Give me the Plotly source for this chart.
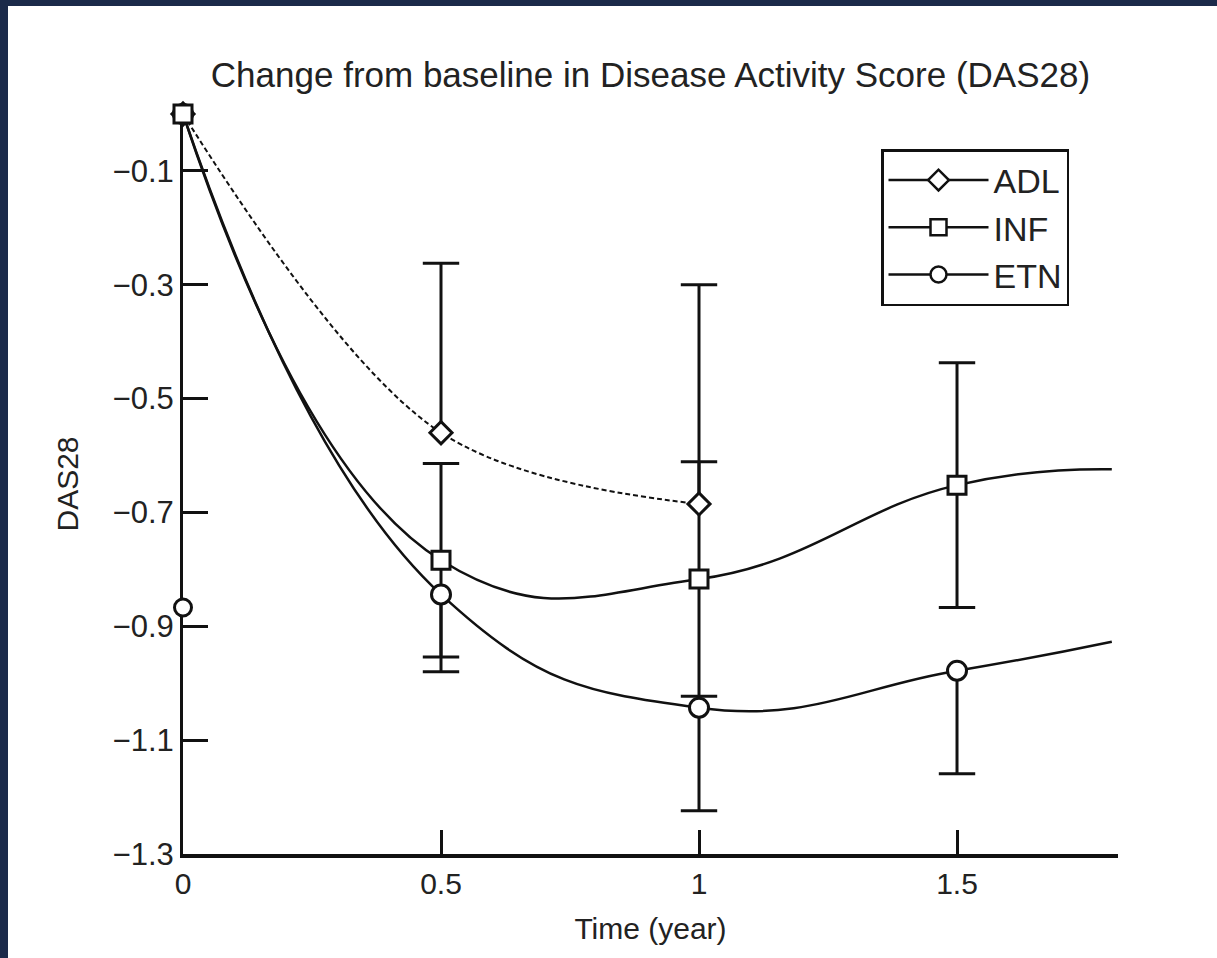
import plotly.graph_objects as go

# ---------------- data ----------------
adl_x = [0, 0.5, 1]
adl_y = [0.0, -0.560, -0.685]
adl_err_up = [0.0, 0.298, 0.385]

inf_x = [0, 0.5, 1, 1.5]
inf_y = [0.0, -0.784, -0.817, -0.652]
inf_err = [0.0, 0.170, 0.206, 0.215]

etn_x = [0, 0.5, 1, 1.5]
etn_y = [0.0, -0.844, -1.043, -0.978]
etn_err_down = [0.0, 0.136, 0.181, 0.181]

# where the fitted curves leave the plot on the right
curve_end_x = 1.8
inf_curve_end = -0.624
etn_curve_end = -0.927

# isolated symbol drawn on the y axis
stray_x = [0]
stray_y = [-0.867]

x_ticks = [0, 0.5, 1, 1.5]
x_tick_labels = ["0", "0.5", "1", "1.5"]
y_ticks = [-0.1, -0.3, -0.5, -0.7, -0.9, -1.1, -1.3]
y_tick_labels = ["\u22120.1", "\u22120.3", "\u22120.5", "\u22120.7", "\u22120.9", "\u22121.1", "\u22121.3"]

title_text = "Change from baseline in Disease Activity Score (DAS28)"
x_title = "Time (year)"
y_title = "DAS28"

# ---------------- layout constants ----------------
W, H = 1217, 958
ML, MR, MT, MB = 183, 99, 114, 104
PW, PH = W - ML - MR, H - MT - MB
NAVY = "#1b2a4a"
INK = "#111111"
TXT = "#222222"
FONT = "Liberation Sans"


def px_to_paper_x(p):
    return (p - ML) / PW


def px_to_paper_y(p):
    return (H - MB - p) / PH


fig = go.Figure()

# curves (clipped to the plot area)
fig.add_trace(go.Scatter(
    x=adl_x, y=adl_y, mode="lines", showlegend=False, hoverinfo="skip",
    line=dict(color=INK, width=2, dash="5px,3px", shape="spline", smoothing=1.0)))
fig.add_trace(go.Scatter(
    x=inf_x + [curve_end_x], y=inf_y + [inf_curve_end], mode="lines", showlegend=False,
    hoverinfo="skip", line=dict(color=INK, width=2.5, shape="spline", smoothing=1.3)))
fig.add_trace(go.Scatter(
    x=etn_x + [curve_end_x], y=etn_y + [etn_curve_end], mode="lines", showlegend=False,
    hoverinfo="skip", line=dict(color=INK, width=2.5, shape="spline", smoothing=1.3)))

# error bars (stems only)
err_specs = [
    (adl_x, adl_y, adl_err_up, [0.0] * len(adl_x)),
    (inf_x, inf_y, inf_err, inf_err),
    (etn_x, etn_y, [0.0] * len(etn_x), etn_err_down),
]
for xs, ys, up, dn in err_specs:
    fig.add_trace(go.Scatter(
        x=xs, y=ys, mode="markers", showlegend=False, hoverinfo="skip", cliponaxis=False,
        marker=dict(size=1, opacity=0),
        error_y=dict(type="data", symmetric=False, array=up, arrayminus=dn,
                     color=INK, thickness=3, width=0)))

# error bar caps
cap_x, cap_y = [], []
for xs, ys, up, dn in err_specs:
    for xv, yv, u, d in zip(xs, ys, up, dn):
        if u > 0:
            cap_x.append(xv)
            cap_y.append(yv + u)
        if d > 0:
            cap_x.append(xv)
            cap_y.append(yv - d)
fig.add_trace(go.Scatter(
    x=cap_x, y=cap_y, mode="markers", showlegend=False, hoverinfo="skip", cliponaxis=False,
    marker=dict(symbol="line-ew", size=26, line=dict(color=INK, width=3))))

# markers
mk_line = dict(color=INK, width=3)
fig.add_trace(go.Scatter(
    x=stray_x, y=stray_y, mode="markers", showlegend=False, hoverinfo="skip", cliponaxis=False,
    marker=dict(symbol="circle", size=17, color="white", line=mk_line)))
fig.add_trace(go.Scatter(
    x=etn_x, y=etn_y, mode="markers", showlegend=False, cliponaxis=False,
    marker=dict(symbol="circle", size=19, color="white", line=mk_line)))
fig.add_trace(go.Scatter(
    x=adl_x, y=adl_y, mode="markers", showlegend=False, cliponaxis=False,
    marker=dict(symbol="diamond", size=17, color="white", line=mk_line)))
fig.add_trace(go.Scatter(
    x=inf_x, y=inf_y, mode="markers", showlegend=False, cliponaxis=False,
    marker=dict(symbol="square", size=18, color="white", line=mk_line)))

# legend entries
for name, sym, size in [("ADL", "diamond", 16), ("INF", "square", 16), ("ETN", "circle", 16)]:
    fig.add_trace(go.Scatter(
        x=[None], y=[None], mode="lines+markers", name=name,
        line=dict(color=INK, width=2.5),
        marker=dict(symbol=sym, size=size, color="white", line=dict(color=INK, width=2.5))))

# navy frame on the left and top edges of the page
y_canvas_top = px_to_paper_y(0)
y_canvas_bot = px_to_paper_y(H)
x_canvas_left = px_to_paper_x(0)
x_canvas_right = px_to_paper_x(W)
shapes = [
    dict(type="rect", xref="paper", yref="paper", layer="below",
         x0=x_canvas_left, x1=px_to_paper_x(8), y0=y_canvas_bot, y1=y_canvas_top,
         fillcolor=NAVY, line=dict(width=0)),
    dict(type="rect", xref="paper", yref="paper", layer="below",
         x0=x_canvas_left, x1=x_canvas_right, y0=px_to_paper_y(6), y1=y_canvas_top,
         fillcolor=NAVY, line=dict(width=0)),
]

fig.update_layout(
    width=W, height=H,
    margin=dict(l=ML, r=MR, t=MT, b=MB, pad=0),
    paper_bgcolor="white", plot_bgcolor="white",
    font=dict(family=FONT, color=INK),
    title=dict(text=title_text, x=px_to_paper_x(650.5), xref="paper", xanchor="center",
               y=1 - 75 / H, yref="container", yanchor="middle",
               font=dict(family=FONT, size=35, color=TXT)),
    shapes=shapes,
    showlegend=True,
    legend=dict(
        x=px_to_paper_x(881), y=px_to_paper_y(149), xanchor="left", yanchor="top",
        bgcolor="white", bordercolor=INK, borderwidth=2.5,
        font=dict(family=FONT, size=34, color=TXT),
        itemwidth=100, tracegroupgap=0),
    xaxis=dict(
        range=[0, 1.812], tickmode="array", tickvals=x_ticks, ticktext=x_tick_labels,
        ticks="inside", ticklen=24, tickwidth=3, tickcolor=INK,
        showline=True, linecolor=INK, linewidth=3.5, mirror=False,
        showgrid=False, zeroline=False, layer="below traces",
        tickfont=dict(family=FONT, size=30, color=TXT),
        title=dict(text=x_title, font=dict(family=FONT, size=30, color=TXT), standoff=20)),
    yaxis=dict(
        range=[-1.3, 0], tickmode="array", tickvals=y_ticks, ticktext=y_tick_labels,
        ticks="inside", ticklen=25, tickwidth=3, tickcolor=INK,
        showline=True, linecolor=INK, linewidth=3, mirror=False,
        showgrid=False, zeroline=False, layer="below traces",
        tickfont=dict(family=FONT, size=31, color=TXT),
        title=dict(text=y_title, font=dict(family=FONT, size=30, color=TXT), standoff=26)),
)

fig.write_html("out.html")
